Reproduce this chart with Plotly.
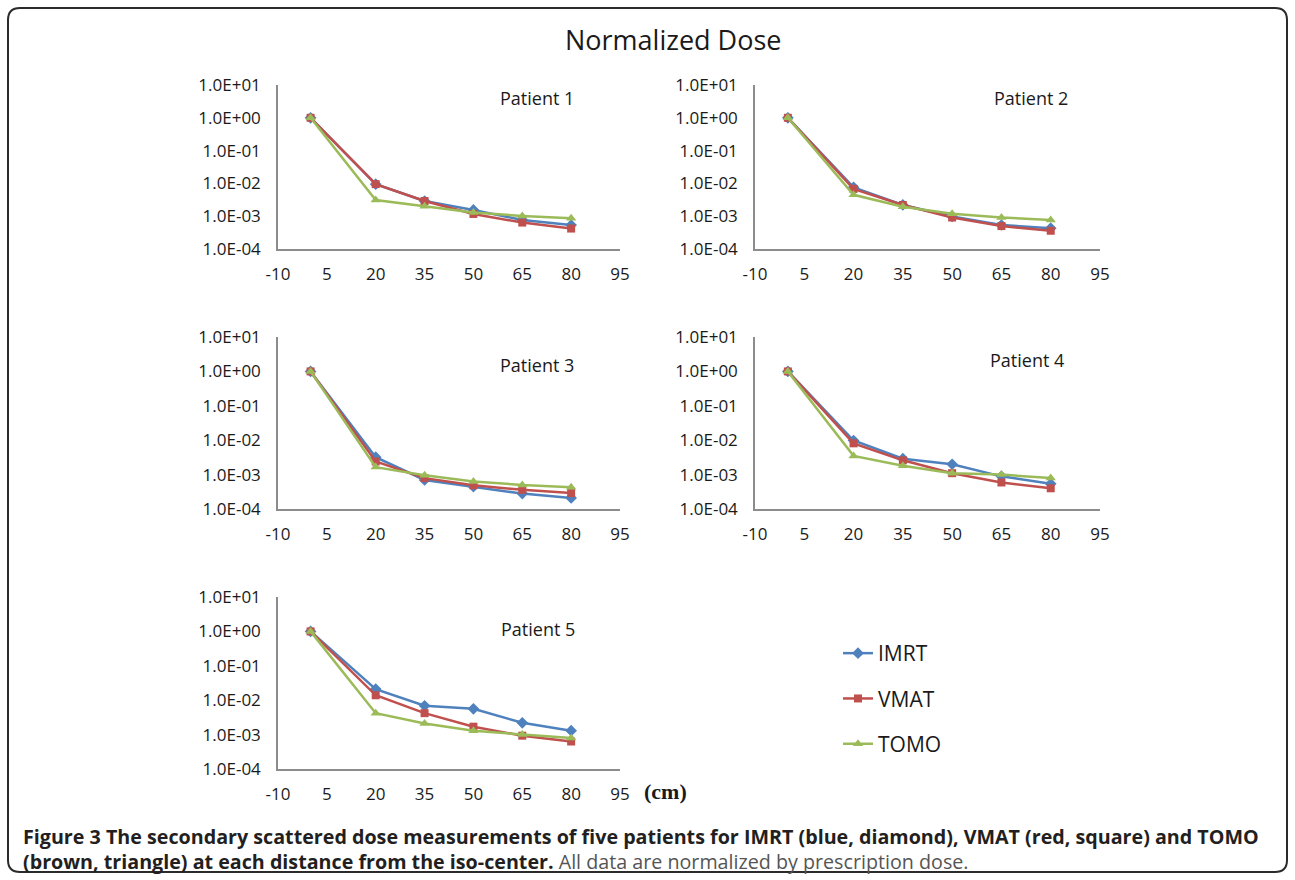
import plotly.graph_objects as go

# ---------------- data ----------------
distance = [0, 20, 35, 50, 65, 80]
series_names = ["IMRT", "VMAT", "TOMO"]
patients = ["Patient 1", "Patient 2", "Patient 3", "Patient 4", "Patient 5"]

p1_imrt = [1.0, 0.0095, 0.0029, 0.00155, 0.00077, 0.00054]
p1_vmat = [1.0, 0.0095, 0.0029, 0.00117, 0.00064, 0.00042]
p1_tomo = [1.0, 0.0031, 0.0020, 0.00130, 0.00102, 0.00086]

p2_imrt = [1.0, 0.0076, 0.0022, 0.00098, 0.00054, 0.00043]
p2_vmat = [1.0, 0.0068, 0.0022, 0.00091, 0.00050, 0.00036]
p2_tomo = [1.0, 0.0045, 0.00195, 0.00118, 0.00091, 0.00077]

p3_imrt = [1.0, 0.0032, 0.00070, 0.00045, 0.00028, 0.00021]
p3_vmat = [1.0, 0.0024, 0.00079, 0.00049, 0.00036, 0.00029]
p3_tomo = [1.0, 0.00165, 0.00096, 0.00063, 0.00050, 0.00043]

p4_imrt = [1.0, 0.0098, 0.0029, 0.0020, 0.00089, 0.00054]
p4_vmat = [1.0, 0.0081, 0.0026, 0.0011, 0.00059, 0.00040]
p4_tomo = [1.0, 0.0035, 0.0018, 0.0011, 0.00100, 0.00079]

p5_imrt = [1.0, 0.021, 0.0069, 0.0056, 0.0022, 0.0013]
p5_vmat = [1.0, 0.0139, 0.0042, 0.0017, 0.00093, 0.00063]
p5_tomo = [1.0, 0.0042, 0.0021, 0.0013, 0.00100, 0.00079]

patient_data = [
    (p1_imrt, p1_vmat, p1_tomo),
    (p2_imrt, p2_vmat, p2_tomo),
    (p3_imrt, p3_vmat, p3_tomo),
    (p4_imrt, p4_vmat, p4_tomo),
    (p5_imrt, p5_vmat, p5_tomo),
]

x_ticks = [-10, 5, 20, 35, 50, 65, 80, 95]
x_ticktext = ["-10", "5", "20", "35", "50", "65", "80", "95"]
y_ticks = [1e-4, 1e-3, 1e-2, 1e-1, 1e0, 1e1]
y_ticktext = ["1.0E-04", "1.0E-03", "1.0E-02", "1.0E-01", "1.0E+00", "1.0E+01"]

# ---------------- styling ----------------
W, H = 1295, 880
colors = ["#4F81BD", "#C0504D", "#9BBB59"]
symbols = ["diamond", "square", "triangle-up"]
msize = [9, 8, 9]
FONT = "Open Sans"

# panel pixel boxes: (left, right, top, bottom)
boxes = [
    (278, 620, 85, 249),
    (755, 1100, 85, 249),
    (278, 620, 337, 509),
    (755, 1100, 337, 509),
    (278, 620, 597, 769),
]
label_pos = [(537, 98), (1031, 98), (537, 365), (1027, 360), (538, 629)]

fig = go.Figure()
layout = dict(
    width=W, height=H,
    margin=dict(l=0, r=0, t=0, b=0, pad=0, autoexpand=False),
    paper_bgcolor="white", plot_bgcolor="white",
    showlegend=True,
    font=dict(family=FONT, color="#1a1a1a"),
)

annotations = []
for i, (vals, box) in enumerate(zip(patient_data, boxes)):
    n = "" if i == 0 else str(i + 1)
    xa, ya = "x" + n, "y" + n
    for j, name in enumerate(series_names):
        fig.add_trace(go.Scatter(
            x=distance, y=vals[j], mode="lines+markers", name=name,
            xaxis=xa, yaxis=ya,
            line=dict(color=colors[j], width=2.5),
            marker=dict(symbol=symbols[j], size=msize[j], color=colors[j]),
            showlegend=(i == 0), legendgroup=name,
        ))
    l, r, t, b = box
    common_axis = dict(showgrid=False, zeroline=False, showline=True,
                       linecolor="#8c8c8c", linewidth=1.5, ticks="",
                       automargin=False,
                       tickfont=dict(family=FONT, size=17, color="#1a1a1a"))
    layout["xaxis" + n] = dict(
        domain=[l / W, r / W], anchor=ya, range=[-10, 95],
        tickmode="array", tickvals=x_ticks, ticktext=x_ticktext,
        ticklabelstandoff=9, **common_axis)
    layout["yaxis" + n] = dict(
        domain=[1 - b / H, 1 - t / H], anchor=xa, type="log", range=[-4, 1],
        tickmode="array", tickvals=y_ticks, ticktext=y_ticktext,
        ticklabelstandoff=12, **common_axis)
    px_, py_ = label_pos[i]
    annotations.append(dict(text=patients[i], x=px_ / W, y=1 - py_ / H,
                            xref="paper", yref="paper", showarrow=False,
                            xanchor="center", yanchor="middle",
                            font=dict(family=FONT, size=18, color="#1a1a1a")))

# title
annotations.append(dict(text="Normalized Dose", x=673 / W, y=1 - 40 / H,
                        xref="paper", yref="paper", showarrow=False,
                        xanchor="center", yanchor="middle",
                        font=dict(family=FONT, size=27, color="#1a1a1a")))
# unit label
annotations.append(dict(text="<b>(cm)</b>", x=666 / W, y=1 - 791 / H,
                        xref="paper", yref="paper", showarrow=False,
                        xanchor="center", yanchor="middle",
                        font=dict(family="Liberation Serif", size=22, color="#1a1a1a")))
# caption
cap_font = "Open Sans"
annotations.append(dict(
    text="<b>Figure 3 The secondary scattered dose measurements of five patients for IMRT (blue, diamond), VMAT (red, square) and TOMO</b>",
    x=21 / W, y=1 - 836 / H, xref="paper", yref="paper", showarrow=False,
    xanchor="left", yanchor="middle",
    font=dict(family=cap_font, size=19.7, color="#231f20")))
annotations.append(dict(
    text="<b>(brown, triangle) at each distance from the iso-center.</b> <span style='color:#555555'>All data are normalized by prescription dose.</span>",
    x=21 / W, y=1 - 861 / H, xref="paper", yref="paper", showarrow=False,
    xanchor="left", yanchor="middle",
    font=dict(family=cap_font, size=19.7, color="#231f20")))
layout["annotations"] = annotations

layout["legend"] = dict(
    x=838 / W, y=1 - 633 / H, xanchor="left", yanchor="top",
    font=dict(family=FONT, size=21, color="#1a1a1a"),
    tracegroupgap=15, itemwidth=30, bgcolor="rgba(0,0,0,0)",
)

# rounded outer frame
x0, x1 = 8 / W, 1287 / W
y0, y1 = 1 - 872 / H, 1 - 8 / H
rx, ry = 12 / W, 12 / H
path = (f"M {x0+rx},{y1} L {x1-rx},{y1} Q {x1},{y1} {x1},{y1-ry} "
        f"L {x1},{y0+ry} Q {x1},{y0} {x1-rx},{y0} L {x0+rx},{y0} "
        f"Q {x0},{y0} {x0},{y0+ry} L {x0},{y1-ry} Q {x0},{y1} {x0+rx},{y1} Z")
layout["shapes"] = [dict(type="path", path=path, xref="paper", yref="paper",
                         line=dict(color="#2b2b2b", width=2))]

fig.update_layout(**layout)
fig.write_html(
    "out.html",
    config={"displayModeBar": False},
    post_script="document.body.style.margin='0';document.body.style.overflow='hidden';",
)
